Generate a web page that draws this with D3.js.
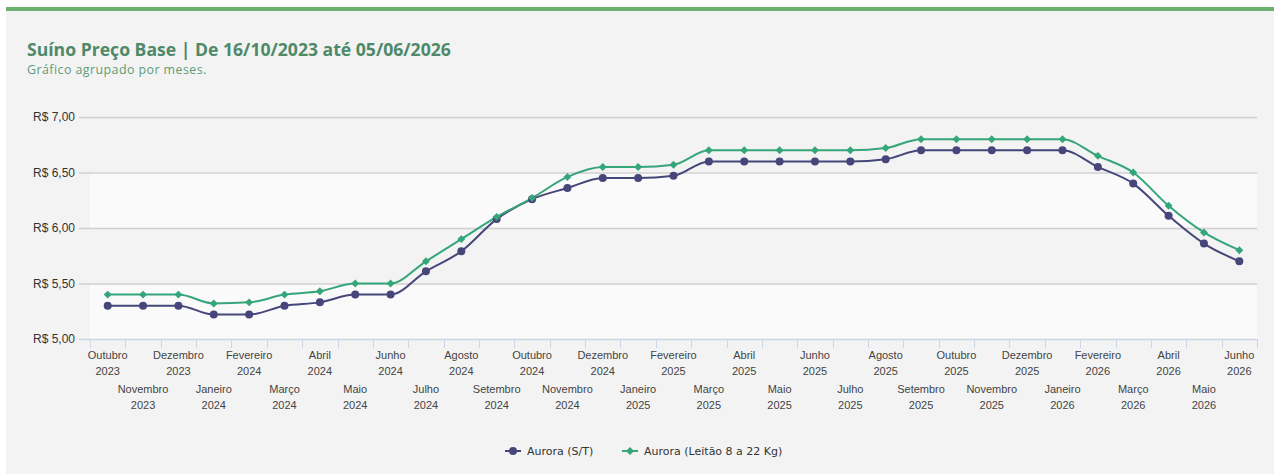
<!DOCTYPE html>
<html>
<head>
<meta charset="utf-8">
<script src="https://cdn.jsdelivr.net/npm/d3@7"></script>
<style>
  body { margin: 0; background: #ffffff; }
  svg { display: block; }
</style>
</head>
<body>
<svg width="1274" height="475"></svg>
<script>
const WIDTH = 1274;
const HEIGHT = 475;

const categories = [
    "Outubro 2023", "Novembro 2023", "Dezembro 2023",
    "Janeiro 2024", "Fevereiro 2024", "Março 2024", "Abril 2024", "Maio 2024", "Junho 2024",
    "Julho 2024", "Agosto 2024", "Setembro 2024", "Outubro 2024", "Novembro 2024", "Dezembro 2024",
    "Janeiro 2025", "Fevereiro 2025", "Março 2025", "Abril 2025", "Maio 2025", "Junho 2025",
    "Julho 2025", "Agosto 2025", "Setembro 2025", "Outubro 2025", "Novembro 2025", "Dezembro 2025",
    "Janeiro 2026", "Fevereiro 2026", "Março 2026", "Abril 2026", "Maio 2026", "Junho 2026"
];

const auroraST = [
    5.30, 5.30, 5.30, 5.22, 5.22, 5.30, 5.33, 5.40, 5.40,
    5.61, 5.79, 6.08, 6.26, 6.36, 6.45, 6.45, 6.47, 6.60,
    6.60, 6.60, 6.60, 6.60, 6.62, 6.70, 6.70, 6.70, 6.70,
    6.70, 6.55, 6.40, 6.11, 5.86, 5.70
];

const auroraLeitao = [
    5.40, 5.40, 5.40, 5.32, 5.33, 5.40, 5.43, 5.50, 5.50,
    5.70, 5.90, 6.10, 6.27, 6.46, 6.55, 6.55, 6.57, 6.70,
    6.70, 6.70, 6.70, 6.70, 6.72, 6.80, 6.80, 6.80, 6.80,
    6.80, 6.65, 6.50, 6.20, 5.96, 5.80
];

const yTicks = [5.0, 5.5, 6.0, 6.5, 7.0];

const seriesNames = ["Aurora (S/T)", "Aurora (Leitão 8 a 22 Kg)"];
const seriesColors = ["#46467a", "#35a57a"];

function brl(v) {
    return "R$ " + v.toFixed(2).replace(".", ",");
}

function drawChart(svg) {
    // card
    svg.append("rect")
        .attr("x", 6).attr("y", 11)
        .attr("width", WIDTH - 6).attr("height", HEIGHT - 12)
        .attr("fill", "#f3f3f3");
    svg.append("rect")
        .attr("x", 6).attr("y", 7)
        .attr("width", WIDTH - 6).attr("height", 4)
        .attr("fill", "#6bb16d");

    svg.append("text")
        .attr("x", 27).attr("y", 56)
        .style("font-family", "'Open Sans', sans-serif")
        .style("font-size", "17.6px")
        .style("font-weight", "700")
        .attr("fill", "#4e8a69")
        .text("Suíno Preço Base | De 16/10/2023 até 05/06/2026");

    svg.append("text")
        .attr("x", 27).attr("y", 74)
        .style("font-family", "'Open Sans', sans-serif")
        .style("font-size", "12.4px")
        .style("letter-spacing", "0.45px")
        .attr("fill", "#5c9c78")
        .text("Gráfico agrupado por meses.");

    const x = d3.scaleBand()
        .domain(categories)
        .range([90, 1257]);

    const y = d3.scaleLinear()
        .domain([5, 7])
        .range([339, 117]);

    const cx = c => x(c) + x.bandwidth() / 2;

    // alternating bands
    for (let i = 0; i < yTicks.length - 1; i += 2) {
        svg.append("rect")
            .attr("x", 90)
            .attr("y", y(yTicks[i + 1]))
            .attr("width", 1257 - 90)
            .attr("height", y(yTicks[i]) - y(yTicks[i + 1]))
            .attr("fill", "#fafafa");
    }

    // y axis with gridlines
    const yAxis = svg.append("g")
        .attr("transform", "translate(1257,0)")
        .call(d3.axisLeft(y)
            .tickValues(yTicks)
            .tickSize(1257 - 79)
            .tickPadding(4)
            .tickFormat(brl));
    yAxis.select(".domain").remove();
    yAxis.selectAll(".tick line")
        .attr("stroke", "#d0d0d0")
        .attr("stroke-width", 1.5);
    yAxis.selectAll(".tick text")
        .attr("fill", "#333333")
        .style("font-family", "'Liberation Sans', Arial, sans-serif")
        .style("font-size", "12px");

    // x axis line and ticks
    svg.append("line")
        .attr("x1", 79).attr("x2", 1257)
        .attr("y1", 339.5).attr("y2", 339.5)
        .attr("stroke", "#ccd6eb");

    const bounds = categories.map(c => x(c)).concat([x.range()[1]]);
    svg.append("g").selectAll("line")
        .data(bounds)
        .join("line")
        .attr("x1", d => Math.round(d) + 0.5)
        .attr("x2", d => Math.round(d) + 0.5)
        .attr("y1", 339).attr("y2", 348)
        .attr("stroke", "#ccd6eb");

    const labels = svg.append("g").selectAll("text")
        .data(categories)
        .join("text")
        .attr("text-anchor", "middle")
        .attr("fill", "#444444")
        .style("font-family", "'Liberation Sans', Arial, sans-serif")
        .style("font-size", "11px");

    labels.each(function (c, i) {
        const parts = c.split(" ");
        const base = i % 2 === 0 ? 359 : 393;
        const t = d3.select(this);
        t.append("tspan").attr("x", cx(c)).attr("y", base).text(parts[0]);
        t.append("tspan").attr("x", cx(c)).attr("y", base + 16).text(parts[1]);
    });

    // series
    const line = d3.line()
        .x((d, i) => cx(categories[i]))
        .y(d => y(d))
        .curve(d3.curveMonotoneX);

    [auroraST, auroraLeitao].forEach((values, s) => {
        svg.append("path")
            .datum(values)
            .attr("fill", "none")
            .attr("stroke", seriesColors[s])
            .attr("stroke-width", 2)
            .attr("d", line);
    });

    svg.append("g").selectAll("circle")
        .data(auroraST)
        .join("circle")
        .attr("cx", (d, i) => cx(categories[i]))
        .attr("cy", d => y(d))
        .attr("r", 4)
        .attr("fill", seriesColors[0]);

    const diamond = d3.symbol().type(d3.symbolDiamond2).size(40);
    svg.append("g").selectAll("path")
        .data(auroraLeitao)
        .join("path")
        .attr("transform", (d, i) => `translate(${cx(categories[i])},${y(d)})`)
        .attr("d", diamond)
        .attr("fill", seriesColors[1]);

    // legend
    const legendX = [505, 622];
    seriesNames.forEach((name, s) => {
        const g = svg.append("g")
            .attr("transform", `translate(${legendX[s]},451)`);
        g.append("line")
            .attr("x1", 0).attr("x2", 16)
            .attr("stroke", seriesColors[s])
            .attr("stroke-width", 2);
        if (s === 0) {
            g.append("circle").attr("cx", 8).attr("r", 4).attr("fill", seriesColors[s]);
        } else {
            g.append("path").attr("transform", "translate(8,0)")
                .attr("d", diamond).attr("fill", seriesColors[s]);
        }
        g.append("text")
            .attr("x", 22).attr("y", 4)
            .attr("fill", "#333333")
            .style("font-family", "'DejaVu Sans', sans-serif")
            .style("font-size", "11px")
            .text(name);
    });
}

drawChart(d3.select("svg"));
</script>
</body>
</html>
